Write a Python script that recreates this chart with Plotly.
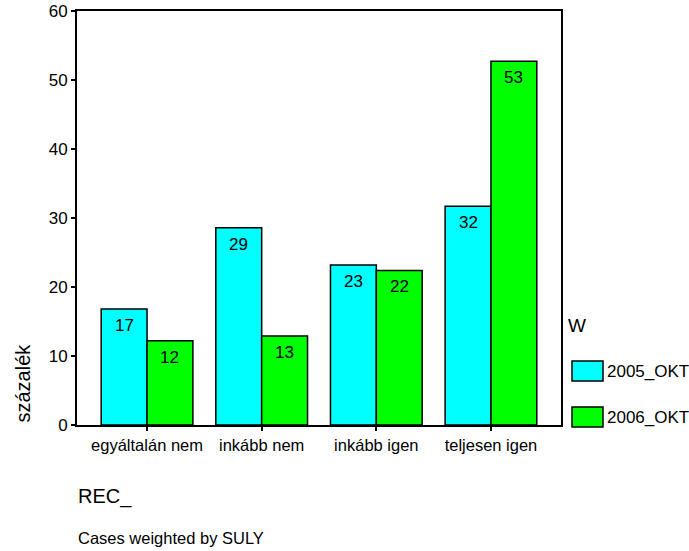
import plotly.graph_objects as go

# Survey answer categories (REC_) and weighted percentages per wave (W)
categories = ["egyáltalán nem", "inkább nem", "inkább igen", "teljesen igen"]
series_names = ["2005_OKT", "2006_OKT"]
values_2005 = [16.8, 28.6, 23.2, 31.7]
values_2006 = [12.2, 12.9, 22.4, 52.7]
series_values = [values_2005, values_2006]
series_colors = ["#00FFFF", "#00FF00"]
y_ticks = [0, 10, 20, 30, 40, 50, 60]

W, H = 689, 551
L, R, T, B = 77, 128, 11, 126
x_range = [-0.611, 3.611]
bargap = 0.2
FONT = "Arial, Liberation Sans, sans-serif"

plot_w = W - L - R
plot_h = H - T - B


def px_x(px):
    return (px - L) / plot_w


def px_y(py):
    return (H - B - py) / plot_h


fig = go.Figure()
for name, vals, col in zip(series_names, series_values, series_colors):
    fig.add_trace(go.Bar(
        x=categories, y=vals, name=name,
        marker=dict(color=col, line=dict(color="black", width=1.5)),
        showlegend=False,
    ))

# value labels just below the top of each bar
px_per_cat = plot_w / (x_range[1] - x_range[0])
bar_w_px = (1 - bargap) / len(series_names) * px_per_cat
annotations = []
for si, vals in enumerate(series_values):
    offset = (si - (len(series_names) - 1) / 2) * bar_w_px
    for cat, v in zip(categories, vals):
        annotations.append(dict(
            x=cat, y=v, xref="x", yref="y", text=f"{v:.0f}",
            showarrow=False, xshift=offset, yshift=-5, yanchor="top",
            font=dict(family=FONT, size=17, color="black"),
        ))

# axis titles and footnote
annotations.append(dict(
    x=px_x(22), y=0, xref="paper", yref="y", text="százalék", textangle=-90,
    showarrow=False, xanchor="center", yanchor="bottom",
    font=dict(family=FONT, size=20, color="black"),
))
annotations.append(dict(
    x=px_x(76), y=px_y(496), xref="paper", yref="paper",
    text="REC_", showarrow=False, xanchor="left", yanchor="middle",
    font=dict(family=FONT, size=20, color="black"),
))
annotations.append(dict(
    x=px_x(76), y=px_y(538), xref="paper", yref="paper",
    text="Cases weighted by SULY", showarrow=False, xanchor="left", yanchor="middle",
    font=dict(family=FONT, size=16.5, color="black"),
))

# legend drawn as swatches + labels
annotations.append(dict(
    x=px_x(566), y=px_y(325), xref="paper", yref="paper", text="W",
    showarrow=False, xanchor="left", yanchor="middle",
    font=dict(family=FONT, size=19, color="black"),
))
shapes = []
legend_rows = [371, 417]
for name, col, cy in zip(series_names, series_colors, legend_rows):
    shapes.append(dict(
        type="rect", xref="paper", yref="paper",
        x0=px_x(572), x1=px_x(603), y0=px_y(cy - 10), y1=px_y(cy + 10),
        fillcolor=col, line=dict(color="black", width=1.5),
    ))
    annotations.append(dict(
        x=px_x(605), y=px_y(cy), xref="paper", yref="paper", text=name,
        showarrow=False, xanchor="left", yanchor="middle",
        font=dict(family=FONT, size=17, color="black"),
    ))

fig.update_layout(
    width=W, height=H,
    margin=dict(l=L, r=R, t=T, b=B, pad=0, autoexpand=False),
    paper_bgcolor="white", plot_bgcolor="white",
    barmode="group", bargap=bargap, bargroupgap=0,
    font=dict(family=FONT, color="black"),
    annotations=annotations, shapes=shapes,
    xaxis=dict(
        range=x_range, showgrid=False, zeroline=False, automargin=False,
        showline=True, linecolor="black", linewidth=2, mirror=True,
        ticks="outside", ticklen=4, tickcolor="black", tickwidth=1.5,
        tickfont=dict(family=FONT, size=16.5, color="black"),
    ),
    yaxis=dict(
        range=[0, 60], tickvals=y_ticks, showgrid=False, zeroline=False,
        automargin=False,
        showline=True, linecolor="black", linewidth=2, mirror=True,
        ticks="outside", ticklen=4, tickcolor="black", tickwidth=1.5,
        tickfont=dict(family=FONT, size=17, color="black"),
    ),
)

fig.write_html("out.html")
